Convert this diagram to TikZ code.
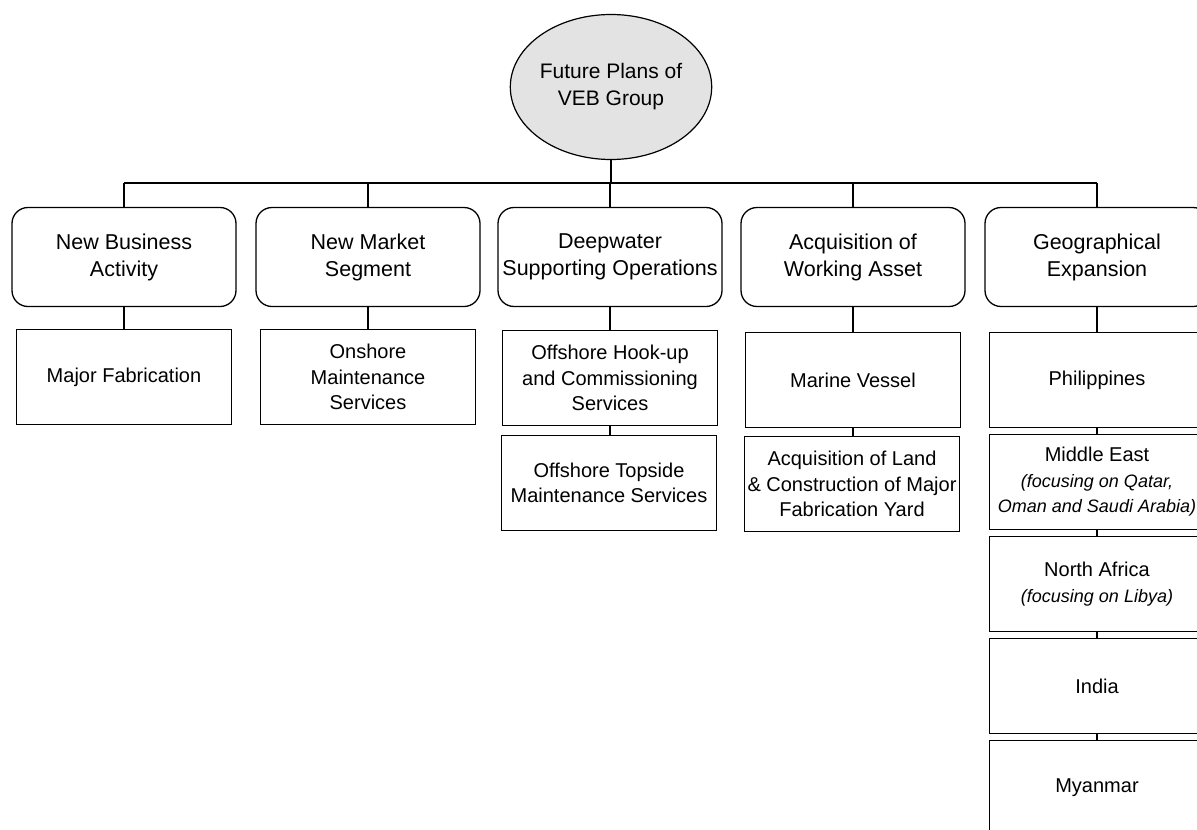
\documentclass[tikz,border=0pt]{standalone}
\usepackage{fontspec}
\setmainfont{Liberation Sans}
\usetikzlibrary{shapes.geometric}
\tikzset{
  topbox/.style={draw, line width=1.3pt, rounded corners=16pt, minimum width=224pt, minimum height=99pt, inner sep=0pt, align=center, font=\fontsize{21.5}{27}\selectfont},
  subbox/.style={draw, line width=1.3pt, minimum width=215pt, minimum height=95pt, inner sep=0pt, align=center, font=\fontsize{20}{25.5}\selectfont},
  conn/.style={line width=1.1pt}
}
\newcommand{\smit}[1]{{\fontsize{18}{24}\selectfont\itshape #1}}
\begin{document}
\begin{tikzpicture}[x=1pt,y=-1pt]
\useasboundingbox (0,0) rectangle (1197,830);
\clip (0,0) rectangle (1197,830);
\fill[white] (0,0) rectangle (1197,830);
% root
\node[draw, ellipse, line width=1.2pt, fill=gray!22, minimum width=196pt, minimum height=145pt, inner sep=0pt, align=center, font=\fontsize{21}{27}\selectfont] (root) at (611,87) {Future Plans of\\VEB Group};
% top level
\node[topbox] (t1) at (124,257) {New Business\\Activity};
\node[topbox] (t2) at (368,257) {New Market\\Segment};
\node[topbox] (t3) at (610,257) {Deepwater\\Supporting Operations};
\node[topbox] (t4) at (853,257) {Acquisition of\\Working Asset};
\node[topbox] (t5) at (1097,257) {Geographical\\Expansion};
% bus
\coordinate (bus) at (611,183);
\coordinate (busL) at (124,183);
\coordinate (busR) at (1097,183);
\draw[conn] (root.south) -- (bus);
\draw[conn] (busL) -- (busR);
\foreach \t in {t1,t2,t3,t4,t5} \draw[conn] (\t.north) -- (\t.north |- bus);
% children
\node[subbox] (c1) at (124,377) {Major Fabrication};
\node[subbox] (c2) at (368,377) {Onshore\\Maintenance\\Services};
\node[subbox] (c3a) at (610,378) {Offshore Hook-up\\and Commissioning\\Services};
\node[subbox] (c3b) at (609,483) {Offshore Topside\\Maintenance Services};
\node[subbox] (c4a) at (853,380) {Marine Vessel};
\node[subbox] (c4b) at (852,484) {Acquisition of Land\\\& Construction of Major\\Fabrication Yard};
\node[subbox] (g1) at (1097,380) {Philippines};
\node[subbox] (g2) at (1097,482) {Middle East\\\smit{(focusing on Qatar,}\\\smit{Oman and Saudi Arabia)}};
\node[subbox] (g3) at (1097,584) {North Africa\\\smit{(focusing on Libya)}};
\node[subbox] (g4) at (1097,686) {India};
\node[subbox] (g5) at (1097,788) {Myanmar};
% child connectors
\draw[conn] (t1.south) -- (t1.south |- c1.north);
\draw[conn] (t2.south) -- (t2.south |- c2.north);
\draw[conn] (t3.south) -- (t3.south |- c3a.north);
\draw[conn] (c3a.south) -- (c3a.south |- c3b.north);
\draw[conn] (t4.south) -- (t4.south |- c4a.north);
\draw[conn] (c4a.south) -- (c4a.south |- c4b.north);
\draw[conn] (t5.south) -- (g1.north);
\draw[conn] (g1.south) -- (g2.north);
\draw[conn] (g2.south) -- (g3.north);
\draw[conn] (g3.south) -- (g4.north);
\draw[conn] (g4.south) -- (g5.north);
\end{tikzpicture}
\end{document}
